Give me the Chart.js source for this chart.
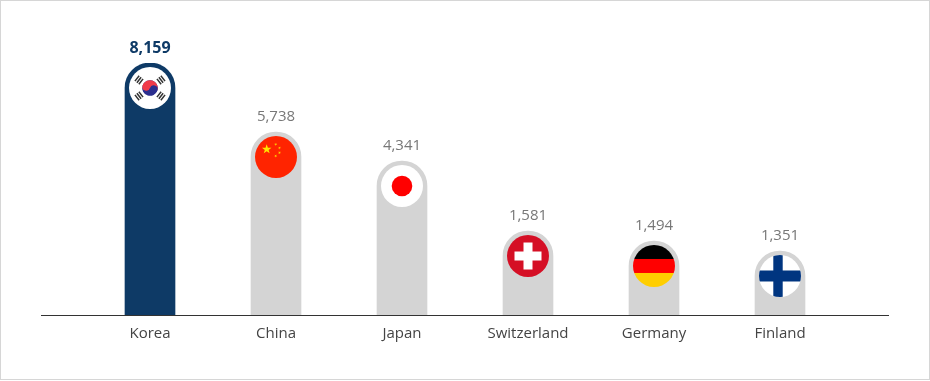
<!DOCTYPE html>
<html>
<head>
<meta charset="utf-8">
<style>html,body{margin:0;padding:0;background:#fff}canvas{display:block}</style>
<script src="https://cdn.jsdelivr.net/npm/chart.js@4"></script>
</head>
<body>
<canvas id="c" width="930" height="381"></canvas>
<script>
const categories = ["Korea", "China", "Japan", "Switzerland", "Germany", "Finland"];
const values = [8159, 5738, 4341, 1581, 1494, 1351];
// The reference bars are not proportional to their values: this is its non-linear value axis.
const axisStops = [0, 1351, 1494, 1581, 4341, 5738, 8159];
const axisShares = [0, 0.254, 0.2937, 0.3333, 0.6111, 0.7262, 1];

class StoppedScale extends Chart.LinearScale {
  static id = "stopped";
  static defaults = Chart.LinearScale.defaults;
  getPixelForValue(v) {
    if (v === null || v === undefined) return NaN;
    let i = 1;
    while (i < axisStops.length - 1 && v > axisStops[i]) i++;
    const t = (v - axisStops[i - 1]) / (axisStops[i] - axisStops[i - 1]);
    return this.getPixelForDecimal(axisShares[i - 1] + t * (axisShares[i] - axisShares[i - 1]));
  }
}
Chart.register(StoppedScale);

function star(ctx, x, y, r, rot, color) {
  ctx.fillStyle = color;
  ctx.beginPath();
  for (let i = 0; i < 10; i++) {
    const a = rot - Math.PI / 2 + i * Math.PI / 5, q = i % 2 ? r * 0.4 : r;
    ctx.lineTo(x + q * Math.cos(a), y + q * Math.sin(a));
  }
  ctx.closePath();
  ctx.fill();
}
const flagPainters = {
  Korea(ctx) {
    ctx.fillStyle = "#fff"; ctx.fillRect(-21, -21, 42, 42);
    ctx.save();
    ctx.rotate(0.3);
    const r = 7.8;
    ctx.fillStyle = "#2b2f8f";
    ctx.beginPath(); ctx.arc(0, 0, r, 0, Math.PI * 2); ctx.fill();
    ctx.fillStyle = "#f03a4a";
    ctx.beginPath(); ctx.arc(0, 0, r, Math.PI, 0); ctx.fill();
    ctx.beginPath(); ctx.arc(-r / 2, 0, r / 2, 0, Math.PI * 2); ctx.fill();
    ctx.fillStyle = "#2b2f8f";
    ctx.beginPath(); ctx.arc(r / 2, 0, r / 2, 0, Math.PI * 2); ctx.fill();
    ctx.restore();
    ctx.fillStyle = "#333";
    [[-11, -8, -0.9], [11, -8, 0.9], [-11, 8, 0.9], [11, 8, -0.9]].forEach(([x, y, a]) => {
      ctx.save();
      ctx.translate(x, y);
      ctx.rotate(a);
      [-2.5, 0, 2.5].forEach(o => ctx.fillRect(-3.4, o - 0.75, 6.8, 1.5));
      ctx.restore();
    });
  },
  China(ctx) {
    ctx.fillStyle = "#ff2400"; ctx.fillRect(-21, -21, 42, 42);
    star(ctx, -9.3, -7.7, 5, 0, "#ffe600");
    [[-0.3, -12.7], [3.5, -9.2], [3.5, -4.3], [-0.3, -1]].forEach(([x, y]) => star(ctx, x, y, 1.6, 0.5, "#ffd000"));
  },
  Japan(ctx) {
    ctx.fillStyle = "#fff"; ctx.fillRect(-21, -21, 42, 42);
    ctx.fillStyle = "#ff0000";
    ctx.beginPath(); ctx.arc(0, 0, 10.3, 0, Math.PI * 2); ctx.fill();
  },
  Switzerland(ctx) {
    ctx.fillStyle = "#d50f25"; ctx.fillRect(-21, -21, 42, 42);
    ctx.fillStyle = "#fff";
    ctx.fillRect(-4.5, -13.5, 9, 27);
    ctx.fillRect(-13.5, -4.5, 27, 9);
  },
  Germany(ctx) {
    ctx.fillStyle = "#000"; ctx.fillRect(-21, -21, 42, 14);
    ctx.fillStyle = "#ff0000"; ctx.fillRect(-21, -7, 42, 14);
    ctx.fillStyle = "#ffce00"; ctx.fillRect(-21, 7, 42, 14);
  },
  Finland(ctx) {
    ctx.fillStyle = "#fff"; ctx.fillRect(-21, -21, 42, 42);
    ctx.fillStyle = "#003580";
    ctx.fillRect(-6.7, -21, 9.4, 42);
    ctx.fillRect(-21, -5.5, 42, 11);
  }
};

const decorations = {
  id: "decorations",
  beforeDraw(chart) {
    const { ctx, width, height } = chart;
    ctx.save();
    ctx.strokeStyle = "#d6d6d6";
    ctx.lineWidth = 1;
    ctx.strokeRect(0.5, 0.5, width - 1, height - 2);
    ctx.restore();
  },
  afterDatasetsDraw(chart) {
    const { ctx, chartArea } = chart;
    const bars = chart.getDatasetMeta(0).data;
    ctx.save();
    ctx.fillStyle = "#333";
    ctx.fillRect(chartArea.left - 46, chartArea.bottom, chartArea.right - chartArea.left + 92, 1);
    bars.forEach((bar, i) => {
      ctx.save();
      ctx.translate(bar.x, bar.y + 25);
      ctx.beginPath();
      ctx.arc(0, 0, 21, 0, Math.PI * 2);
      ctx.clip();
      flagPainters[categories[i]](ctx);
      ctx.restore();
      ctx.textAlign = "center";
      ctx.textBaseline = "middle";
      ctx.font = (i === 0 ? "bold 16px" : "15px") + " 'Open Sans'";
      ctx.fillStyle = i === 0 ? "#0e3a66" : "#777";
      ctx.fillText(values[i].toLocaleString("en-US"), bar.x, bar.y - 15);
    });
    ctx.restore();
  }
};

const canvas = document.getElementById("c");
canvas.getContext("2d").textRendering = "geometricPrecision";

new Chart(canvas, {
  type: "bar",
  data: {
    labels: categories,
    datasets: [{
      data: values,
      backgroundColor: values.map((_, i) => i === 0 ? "#0e3a66" : "#d4d4d4"),
      barThickness: 50,
      borderRadius: { topLeft: 25, topRight: 25, bottomLeft: 0, bottomRight: 0 },
      borderSkipped: "bottom"
    }]
  },
  options: {
    responsive: false,
    animation: false,
    layout: { padding: { left: 87, right: 87, top: 63, bottom: 30 } },
    plugins: { legend: { display: false }, tooltip: { enabled: false } },
    scales: {
      x: {
        grid: { display: false },
        border: { display: false },
        afterFit(s) { s.height = 36; },
        ticks: { color: "#444", font: { family: "'Open Sans'", size: 15 }, padding: 2, maxRotation: 0 }
      },
      y: { type: "stopped", display: false, min: 0, max: 8159 }
    }
  },
  plugins: [decorations]
});
</script>
</body>
</html>
